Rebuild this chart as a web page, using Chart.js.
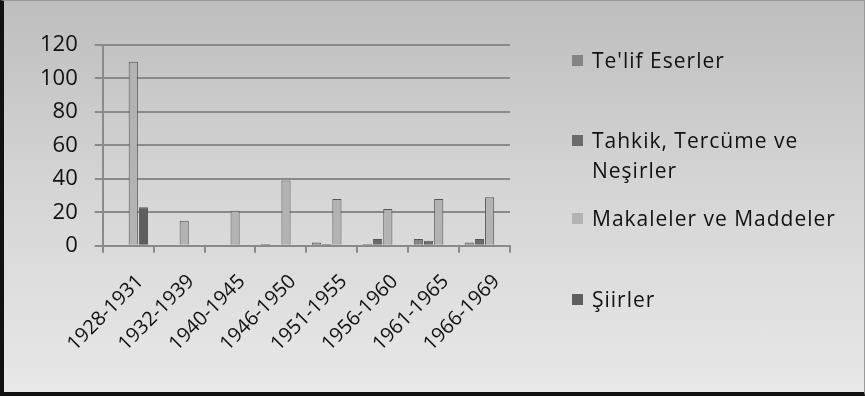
<!DOCTYPE html>
<html lang="tr">
<head>
  <meta charset="UTF-8" />
  <script src="https://cdn.jsdelivr.net/npm/chart.js"></script>
  <title>Eserler</title>
  <style>
    html, body { margin: 0; padding: 0; }
    body { width: 865px; height: 399px; overflow: hidden; background: #fff; }
    #frame {
      position: relative; box-sizing: border-box;
      width: 865px; height: 396px;
      border-left: 4px solid #111; border-bottom: 4px solid #111;
      border-top: 1px solid #999; border-right: 1px solid #999;
      background: linear-gradient(to bottom, #bebebe 0%, #d6d6d6 50%, #e8e8e8 100%);
    }
    #wrap { position: absolute; left: 0; top: 0; width: 860px; height: 391px; }
    #legend {
      position: absolute; left: 568px; top: 44px;
      font-family: 'Open Sans', sans-serif; font-size: 21px; letter-spacing: 1px; color: #111;
    }
    .item { position: absolute; left: 0; white-space: nowrap; line-height: 30px; }
    .box { display: inline-block; width: 11px; height: 11px; margin-right: 9px; vertical-align: 2px; }
  </style>
</head>
<body>
  <div id="frame">
    <div id="wrap"><canvas id="grafik"></canvas></div>
    <div id="legend"></div>
  </div>

  <script>
    const kategoriler = ['1928-1931', '1932-1939', '1940-1945', '1946-1950', '1951-1955', '1956-1960', '1961-1965', '1966-1969']
    const serAdlari = ["Te'lif Eserler", 'Tahkik, Tercüme ve Neşirler', 'Makaleler ve Maddeler', 'Şiirler']
    const telif = [0, 0, 0, 1, 2, 1, 4, 2]
    const tahkik = [0, 0, 0, 0, 1, 4, 3, 4]
    const makaleler = [110, 15, 21, 39, 28, 22, 28, 29]
    const siirler = [23, 0, 0, 0, 0, 0, 0, 0]
    const yTikler = [0, 20, 40, 60, 80, 100, 120]
    const renkler = ['#858585', '#6b6b6b', '#b3b3b3', '#5e5e5e']

    // legend (html, positions like the excel one)
    const legendTop = [0, 80, 158, 239]
    const legendMetin = ["Te'lif Eserler", 'Tahkik, Tercüme ve<br>Neşirler', 'Makaleler ve Maddeler', 'Şiirler']
    const lg = document.getElementById('legend')
    serAdlari.forEach((ad, i) => {
      const d = document.createElement('div')
      d.className = 'item'
      d.style.top = legendTop[i] + 'px'
      d.innerHTML = `<span class="box" style="background:${renkler[i]}"></span>` + legendMetin[i].replace('<br>', '<br><span style="display:inline-block;width:20px"></span>')
      lg.appendChild(d)
    })

    const seriler = [telif, tahkik, makaleler, siirler]

    new Chart(document.getElementById('grafik'), {
      type: 'bar',
      data: {
        labels: kategoriler,
        datasets: seriler.map((v, i) => ({
          label: serAdlari[i],
          data: v,
          backgroundColor: renkler[i],
          borderColor: '#555',
          borderWidth: 1,
          categoryPercentage: 0.8,
          barPercentage: 0.9
        }))
      },
      options: {
        responsive: true,
        maintainAspectRatio: false,
        animation: false,
        layout: { padding: { left: 19, top: 44, right: 354, bottom: 19 } },
        plugins: { legend: { display: false }, tooltip: { enabled: false } },
        scales: {
          x: {
            // rotated labels may hang left of the axis, canvas has room for it
            afterFit: (ax) => { ax.paddingLeft = 0 },
            grid: { display: true, drawOnChartArea: false, color: '#8a8a8a', lineWidth: 2, tickLength: 7 },
            border: { color: '#8a8a8a', width: 2 },
            ticks: {
              color: '#111', font: { family: 'Open Sans', size: 20 },
              maxRotation: 45, minRotation: 45, padding: 17, labelOffset: 12
            }
          },
          y: {
            min: 0, max: 120,
            afterBuildTicks: (ax) => { ax.ticks = yTikler.map(v => ({ value: v })) },
            grid: { color: '#8a8a8a', lineWidth: 2, tickLength: 8 },
            border: { color: '#8a8a8a', width: 2 },
            ticks: { color: '#111', font: { family: 'Open Sans', size: 22 }, padding: 17 }
          }
        }
      }
    })
  </script>
</body>
</html>
